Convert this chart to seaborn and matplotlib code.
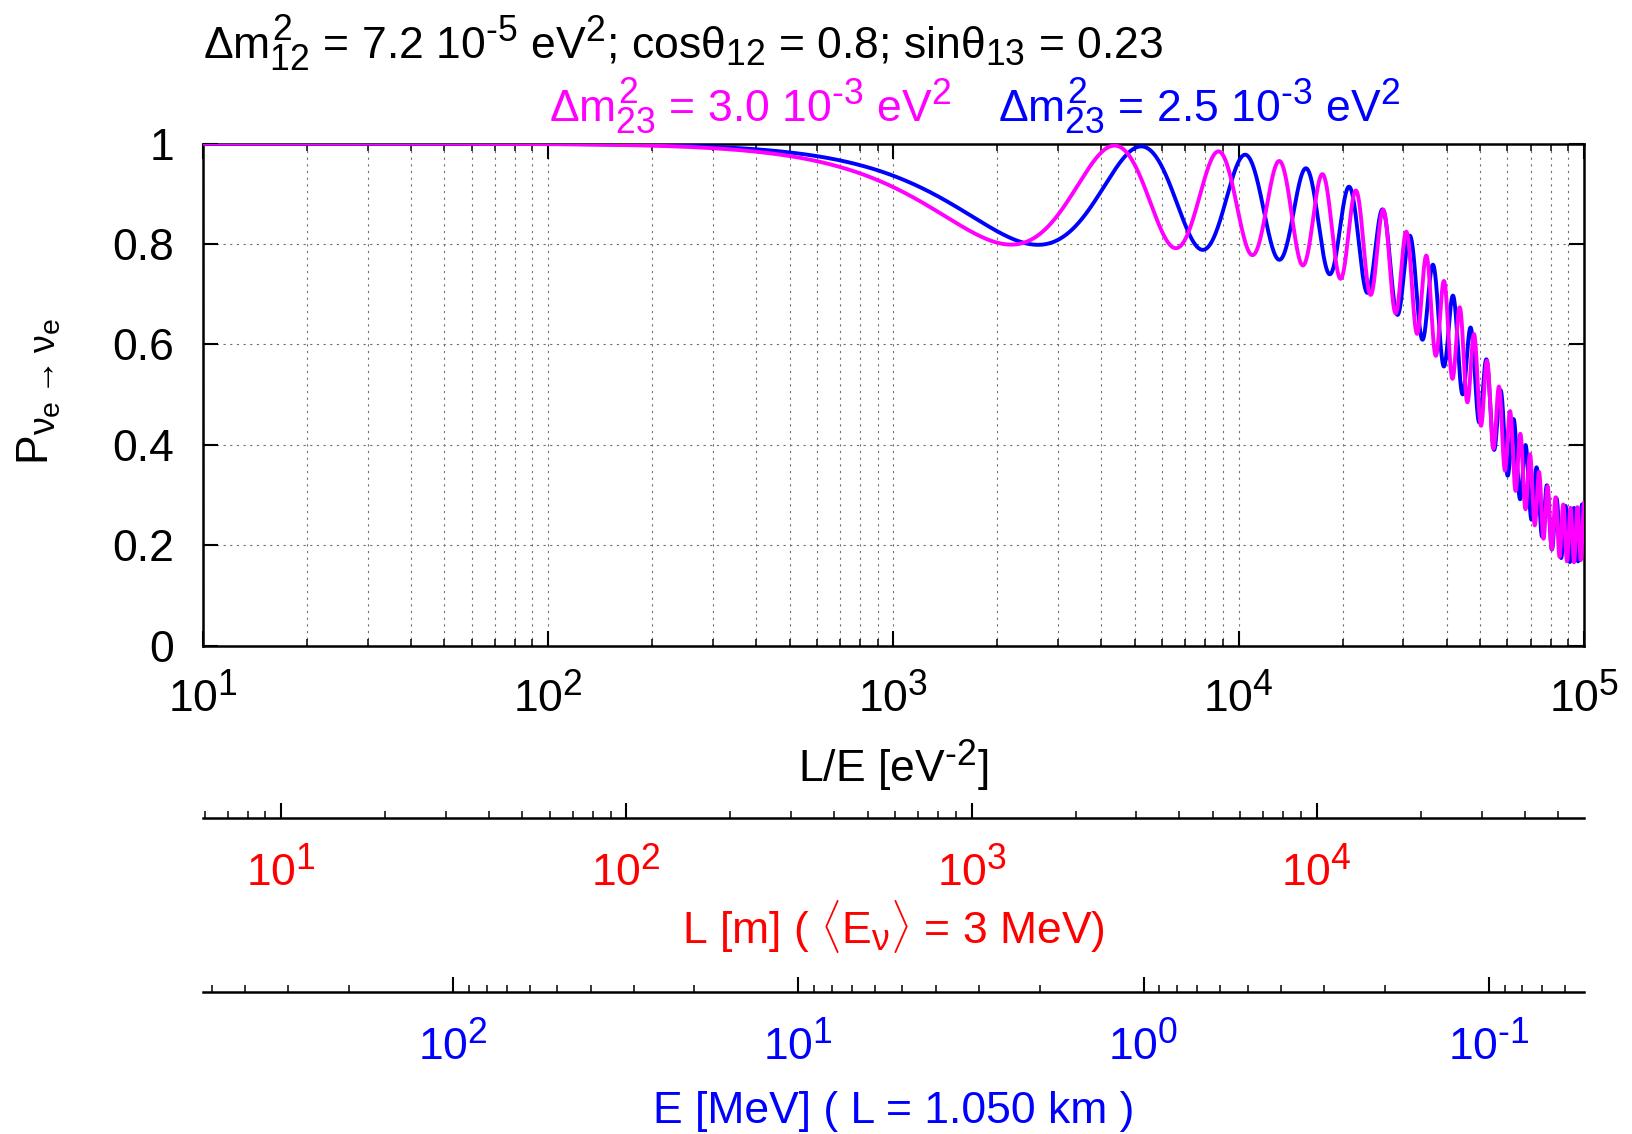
import numpy as np
import pandas as pd
import matplotlib
matplotlib.use("Agg")
import matplotlib.pyplot as plt
import matplotlib._mathtext as _mt
from matplotlib.ticker import FuncFormatter
import seaborn as sns

# gnuplot-like (larger) sub/superscripts
_mt.SHRINK_FACTOR = 0.8

# ---- chart parameters ----
dm2_12 = 7.2e-5                      # eV^2
cos_theta12 = 0.8
sin_theta13 = 0.23
dm2_23_values = [2.5e-3, 3.0e-3]     # eV^2
series_labels = ["2.5", "3.0"]
series_colors = ["#0000ff", "#ff00ff"]
# curve shape
phase_per_LE = 0.235                 # oscillation phase = phase_per_LE * dm2 * (L/E)
amp_solar = 0.68                     # depth of the slow (dm2_12) oscillation
weight_31 = 0.77                     # share of the fast term oscillating with dm2_31
E_mean_MeV = 3.0                     # L axis
L_fixed_km = 1.050                   # E axis
hbar_c = 1.98e-7                     # eV m, as implied by the auxiliary axes
x_range = [1e1, 1e5]                 # L/E in eV^-2
y_ticks = [0, 0.2, 0.4, 0.6, 0.8, 1.0]
y_tick_labels = ["0", "0.2", "0.4", "0.6", "0.8", "1"]
L_ticks = [1e1, 1e2, 1e3, 1e4]       # m
E_ticks = [1e2, 1e1, 1e0, 1e-1]      # MeV

# ---- survival probability curves ----
LE = np.logspace(np.log10(x_range[0]), np.log10(x_range[1]), 30000)
amp_13 = 4 * sin_theta13**2 * (1 - sin_theta13**2)
frames = []
for lab, dm23 in zip(series_labels, dm2_23_values):
    d21 = phase_per_LE * dm2_12 * LE
    d31 = phase_per_LE * (dm23 + dm2_12) * LE
    d32 = phase_per_LE * dm23 * LE
    P = (1 - amp_solar * np.sin(d21)**2
         - amp_13 * (weight_31 * np.sin(d31)**2 + (1 - weight_31) * np.sin(d32)**2))
    frames.append(pd.DataFrame({"LE": LE, "P": P, "dm23": lab}))
df = pd.concat(frames, ignore_index=True)

# ---- style ----
sns.set_style("ticks")
plt.rcParams["font.family"] = ["Liberation Sans", "DejaVu Sans"]
plt.rcParams["mathtext.fontset"] = "custom"
plt.rcParams["mathtext.rm"] = "Liberation Sans"
plt.rcParams["mathtext.it"] = "Liberation Sans"
plt.rcParams["mathtext.bf"] = "Liberation Sans:bold"
plt.rcParams["mathtext.sf"] = "Liberation Sans"
plt.rcParams["text.color"] = "black"
plt.rcParams["axes.labelcolor"] = "black"
plt.rcParams["xtick.color"] = "black"
plt.rcParams["ytick.color"] = "black"
plt.rcParams["axes.edgecolor"] = "black"

W, H = 1633, 1134
fig = plt.figure(figsize=(W / 100, H / 100), dpi=100)
left_px, right_px, top_px, bot_px = 203, 1584, 143.6, 645.5
ax = fig.add_axes([left_px / W, 1 - bot_px / H, (right_px - left_px) / W, (bot_px - top_px) / H])

sns.lineplot(data=df, x="LE", y="P", hue="dm23", hue_order=series_labels,
             palette=dict(zip(series_labels, series_colors)), estimator=None,
             errorbar=None, sort=False, linewidth=2.8, legend=False, ax=ax)
for ln in ax.lines:
    ln.set_zorder(3)

ax.set_xscale("log")
ax.set_xlim(x_range)
ax.set_ylim(0, 1)
ax.set_yticks(y_ticks, y_tick_labels)
ax.set_xlabel("")
ax.set_ylabel("")


def pow10_label(v, pos=None):
    if v <= 0:
        return ""
    e = int(round(np.log10(v)))
    if abs(np.log10(v) - e) > 1e-6:
        return ""
    return r"$10^{\text{%d}}$" % e


ax.xaxis.set_major_formatter(FuncFormatter(pow10_label))

for sp in ax.spines.values():
    sp.set_linewidth(1.8)
    sp.set_color("black")
    sp.set_visible(True)
ax.tick_params(which="both", direction="in", top=True, right=True, colors="black")
ax.tick_params(which="major", length=10.5, width=1.5, labelsize=32)
ax.tick_params(axis="y", which="major", pad=21)
ax.tick_params(axis="x", which="major", pad=20)
ax.tick_params(which="minor", length=5, width=1.1)
ax.tick_params(axis="y", which="minor", left=False, right=False)
ax.set_axisbelow(True)
ax.grid(which="major", axis="both", linestyle=(0, (2, 4)), linewidth=0.8, color="#707070")
ax.grid(which="minor", axis="x", linestyle=(0, (2, 4)), linewidth=0.8, color="#707070")

# ---- auxiliary axes ----
kL = hbar_c * E_mean_MeV * 1e6          # m per eV^-2
kE = L_fixed_km * 1e3 / hbar_c / 1e6    # MeV * eV^-2


def le_to_L(x):
    return np.asarray(x, dtype=float) * kL


def L_to_le(L):
    return np.asarray(L, dtype=float) / kL


def le_to_E(x):
    return kE / np.asarray(x, dtype=float)


def E_to_le(E):
    return kE / np.asarray(E, dtype=float)


axh = bot_px - top_px
secL = ax.secondary_xaxis((bot_px - 818) / axh, functions=(le_to_L, L_to_le))
secE = ax.secondary_xaxis((bot_px - 992) / axh, functions=(le_to_E, E_to_le))
for sec, col, ticks in [(secL, "#ff0000", L_ticks), (secE, "#0000ff", E_ticks)]:
    sec.spines["bottom"].set_linewidth(1.8)
    sec.spines["bottom"].set_color("black")
    sec.set_xticks(ticks)
    sec.xaxis.set_major_formatter(FuncFormatter(pow10_label))
    sec.tick_params(which="both", direction="in", colors="black", labelcolor=col)
    sec.tick_params(which="major", length=10.5, width=1.5, labelsize=32, pad=21)
    sec.tick_params(which="minor", length=5, width=1.1)

# ---- texts ----
cx = (left_px + right_px) / 2 / W
fig.text(left_px / W, 1 - 59.3 / H,
         r"$\Delta m^2_{12}$ = 7.2 10$^{\text{-5}}$ eV$^2$; cos$\theta_{12}$ = 0.8; sin$\theta_{13}$ = 0.23",
         fontsize=32, ha="left", va="baseline", color="black")
fig.text(549 / W, 1 - 121.7 / H, r"$\Delta m^2_{23}$ = 3.0 10$^{\text{-3}}$ eV$^2$",
         fontsize=32, ha="left", va="baseline", color="#ff00ff")
fig.text(998 / W, 1 - 121.7 / H, r"$\Delta m^2_{23}$ = 2.5 10$^{\text{-3}}$ eV$^2$",
         fontsize=32, ha="left", va="baseline", color="#0000ff")
fig.text(cx, 1 - 781.7 / H, r"L/E [eV$^{\text{-2}}$]", fontsize=32, ha="center",
         va="baseline", color="black")
fig.text(cx, 1 - 943 / H, r"L [m] ( $\langle$E$_\nu\rangle$ = 3 MeV)", fontsize=32,
         ha="center", va="baseline", color="#ff0000")
fig.text(cx, 1 - 1123 / H, "E [MeV] ( L = 1.050 km )", fontsize=32,
         ha="center", va="baseline", color="#0000ff")
fig.text(15 / W, 1 - 392 / H, r"P$_{\nu_e \rightarrow \nu_e}$", fontsize=32,
         rotation=90, ha="left", va="center", color="black")

fig.savefig("out.png", dpi=100)
